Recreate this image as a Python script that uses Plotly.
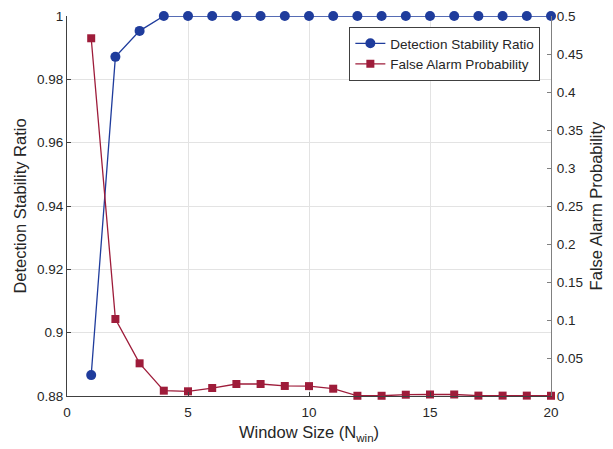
import plotly.graph_objects as go

window_size = list(range(1, 21))
detection_stability = [0.8866, 0.9871, 0.9953, 1, 1, 1, 1, 1, 1, 1,
                       1, 1, 1, 1, 1, 1, 1, 1, 1, 1]
false_alarm = [0.4707, 0.1013, 0.043, 0.007, 0.0062, 0.0105, 0.0158, 0.0158, 0.0132, 0.013,
               0.0096, 0.0003, 0.0003, 0.0017, 0.002, 0.002, 0.0005, 0.0005, 0.0005, 0.0003]

blue = "#1F3C9C"
red = "#9E1C3A"
font = "Liberation Sans, Arial, sans-serif"
txt = "#262626"

fig = go.Figure()
fig.add_trace(go.Scatter(
    x=window_size, y=detection_stability, name="Detection Stability Ratio",
    mode="lines+markers", line=dict(color=blue, width=1.3),
    marker=dict(symbol="circle", size=10, color=blue), cliponaxis=False))
fig.add_trace(go.Scatter(
    x=window_size, y=false_alarm, name="False Alarm Probability",
    mode="lines+markers", line=dict(color=red, width=1.3),
    marker=dict(symbol="square", size=8, color=red), cliponaxis=False, yaxis="y2"))


def ax(linecolor):
    return dict(showline=True, linecolor=linecolor, linewidth=1, ticks="inside",
                ticklen=4, tickcolor=linecolor,
                tickfont=dict(size=13.5, color=txt, family=font),
                zeroline=False, automargin=False)


fig.update_layout(
    width=613, height=449,
    margin=dict(l=59, r=70, t=8, b=61),
    paper_bgcolor="white", plot_bgcolor="white",
    font=dict(family=font, color=txt),
    xaxis=dict(range=[0, 20], tickvals=[0, 5, 10, 15, 20], showgrid=True, gridcolor="#e3e3e3",
               ticklabelstandoff=4,
               title=dict(text="Window Size (N<sub>win</sub>)", font=dict(size=16.5), standoff=7),
               **ax("#404040")),
    yaxis=dict(range=[0.88, 1.0], tickvals=[0.88, 0.9, 0.92, 0.94, 0.96, 0.98, 1.0],
               ticktext=["0.88", "0.9", "0.92", "0.94", "0.96", "0.98", "1"],
               showgrid=True, gridcolor="#e3e3e3",
               title=dict(text="Detection Stability Ratio", font=dict(size=16.5), standoff=6),
               **ax("#404040")),
    yaxis2=dict(range=[0, 0.5], overlaying="y", side="right",
                tickvals=[0, 0.05, 0.1, 0.15, 0.2, 0.25, 0.3, 0.35, 0.4, 0.45, 0.5],
                ticktext=["0", "0.05", "0.1", "0.15", "0.2", "0.25", "0.3", "0.35", "0.4", "0.45", "0.5"],
                showgrid=False, ticklabelstandoff=2,
                title=dict(text="False Alarm Probability", font=dict(size=16.5), standoff=8),
                **ax("#808080")),
    legend=dict(x=0.978, y=0.971, xanchor="right", yanchor="top",
                bgcolor="white", bordercolor="#404040", borderwidth=1,
                font=dict(size=13.5, family=font, color=txt),
                tracegroupgap=0),
    showlegend=True,
)

fig.write_html("out.html")
